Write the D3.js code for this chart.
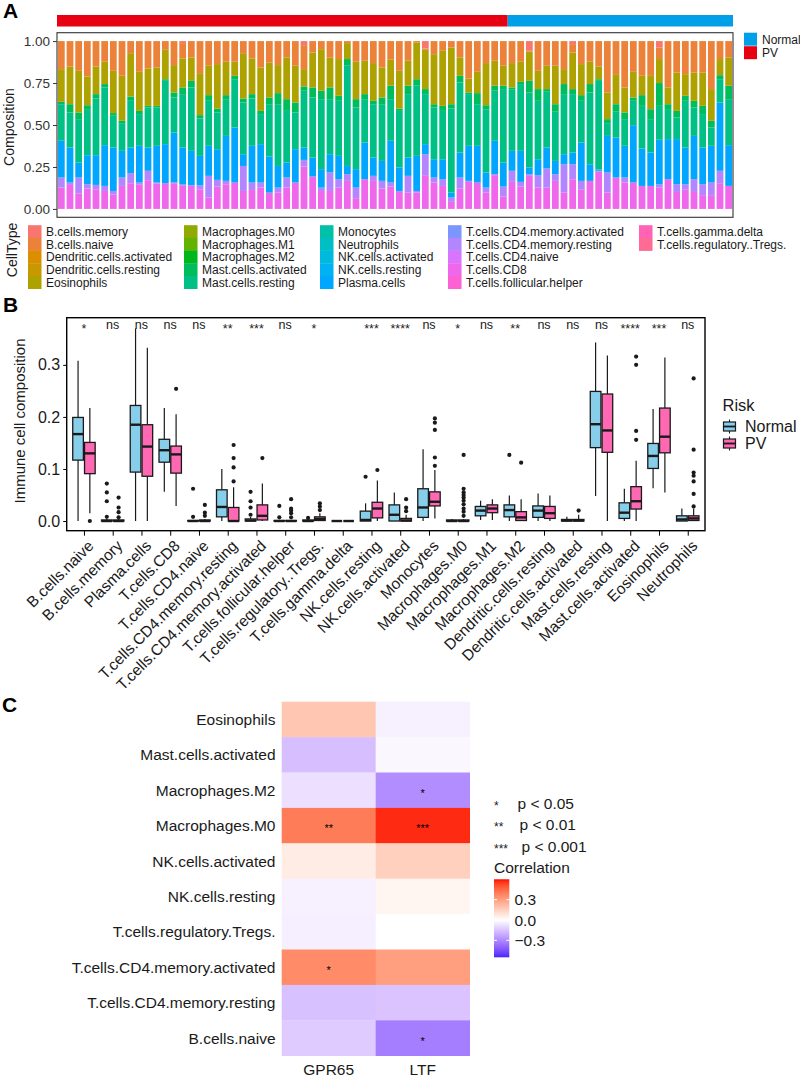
<!DOCTYPE html>
<html>
<head>
<meta charset="utf-8">
<script src="https://cdn.jsdelivr.net/npm/d3@7"></script>
<style>
  body { margin: 0; background: #fff; }
  text { font-family: "Liberation Sans", Arial, sans-serif; }
</style>
</head>
<body>
<svg id="fig" width="800" height="1076"></svg>
<script>
// ---------- panel A: stacked composition per sample ----------
const cellTypes = [
  'B.cells.memory', 'B.cells.naive', 'Dendritic.cells.activated', 'Dendritic.cells.resting', 'Eosinophils',
  'Macrophages.M0', 'Macrophages.M1', 'Macrophages.M2', 'Mast.cells.activated', 'Mast.cells.resting',
  'Monocytes', 'Neutrophils', 'NK.cells.activated', 'NK.cells.resting', 'Plasma.cells',
  'T.cells.CD4.memory.activated', 'T.cells.CD4.memory.resting', 'T.cells.CD4.naive', 'T.cells.CD8', 'T.cells.follicular.helper',
  'T.cells.gamma.delta', 'T.cells.regulatory..Tregs.'
];
const groupNames = ['PV', 'Normal'];
const groupCounts = [52, 26];

// cumulative tops (%) of each band, bottom to top, read per sample
const topCD8 = [12.7,14.3,9.3,12.1,11.7,10.7,8.5,13.7,15.3,14.7,17.1,15.1,15.3,15.3,14.1,13.7,11.7,6.8,13.3,14.7,15.7,10.7,11.3,12.7,9.7,9.7,
  12.7,15.7,25.2,19.3,10.7,10.7,12.7,16.7,6.4,17.7,16.7,12.1,13.3,10.1,9.7,9.7,20.1,15.7,13.7,4.2,12.1,16.1,15.7,9.7,20.1,7.4,
  16.1,13.3,19.7,12.7,12.7,16.7,9.7,17.7,11.7,16.7,22.1,9.7,18.7,15.7,15.7,13.7,13.7,12.7,17.7,10.1,11.7,10.1,8.2,8.2,15.3,13.7];
const topCD4Rest = [18.7,15.7,18.7,14.7,14.3,13.7,10.7,18.7,21.3,15.7,22.7,15.7,15.3,15.7,14.5,14.1,14.1,19.7,17.3,16.7,15.7,25.6,15.7,15.7,9.7,12.7,
  18.7,15.7,29.2,19.3,12.7,21.7,17.7,20.7,12.7,17.7,19.7,16.7,15.7,10.7,19.7,10.7,32.6,18.7,17.7,6.8,18.7,16.7,15.7,12.7,20.7,13.3,
  22.7,16.1,20.7,20.1,24.1,20.7,26.6,26.6,16.7,16.7,22.7,21.7,18.7,18.7,15.7,13.7,13.7,14.7,17.7,14.7,14.7,17.7,14.7,15.7,22.7,13.7];
const topPlasma = [40.6,36.6,27.6,32.0,32.0,38.0,36.6,34.6,36.6,37.6,36.6,37.6,38.6,45.5,36.6,34.6,31.6,37.6,35.6,43.5,48.5,32.6,37.6,38.6,31.2,25.6,
  27.6,35.6,36.6,30.6,23.7,32.6,31.6,25.6,23.7,39.6,30.6,28.6,40.6,24.7,30.6,31.6,38.6,29.6,29.6,9.7,33.6,37.6,37.6,21.7,40.6,27.6,
  34.6,34.6,24.7,29.6,36.6,28.6,32.6,33.6,39.6,26.6,23.5,43.5,42.5,37.6,49.9,36.0,33.6,41.2,41.6,41.6,36.6,43.5,36.6,37.6,63.4,38.0];
const topMastRest = [62.4,57.5,53.5,59.0,65.8,72.4,55.5,51.1,64.4,56.5,60.4,60.4,76.3,66.4,68.4,72.4,53.9,64.4,57.5,65.4,77.3,63.4,65.8,56.5,62.4,62.4,
  58.4,57.5,70.4,66.4,65.4,65.4,64.4,85.3,60.4,65.4,62.4,62.4,65.4,58.4,68.4,73.4,68.4,60.4,58.4,59.8,75.3,68.4,62.4,59.4,70.4,71.4,
  71.0,74.4,69.4,64.4,69.8,57.9,68.4,68.4,64.4,69.4,76.3,51.1,57.9,53.5,64.4,61.4,53.5,61.4,59.0,54.5,64.4,60.4,56.5,48.5,77.3,65.4];
const topMastAct = [63.8,62.4,57.5,61.8,68.4,74.4,57.1,52.5,67.0,58.4,61.4,61.4,77.3,69.4,72.4,76.3,55.9,67.8,59.8,67.8,79.3,65.8,68.4,58.4,66.4,69.0,
  65.4,63.4,73.0,72.4,70.4,72.4,67.4,89.3,65.4,68.4,64.4,66.4,73.4,59.8,73.4,77.3,71.4,62.4,61.4,62.4,79.3,69.4,69.0,61.8,73.4,73.4,
  72.4,75.7,76.3,71.4,71.4,62.4,74.4,71.4,67.8,74.4,77.3,53.5,62.4,57.5,66.4,67.8,59.4,75.0,62.4,58.4,67.4,64.4,61.4,52.5,79.7,73.4];
const topEos = [83.3,84.9,82.3,78.9,84.9,87.7,82.3,79.3,92.8,81.7,83.7,84.3,94.8,85.7,89.7,90.3,80.9,85.3,86.3,87.7,87.7,92.8,89.7,84.3,87.3,85.7,
  90.3,85.3,83.3,93.2,95.2,90.3,89.3,98.8,87.7,88.3,86.9,84.3,88.9,82.3,88.3,99.2,94.8,92.2,94.2,96.2,90.3,77.7,81.7,86.9,88.3,85.3,
  86.9,87.7,93.8,82.3,85.3,85.3,83.3,93.2,86.3,87.7,84.9,69.4,80.3,72.4,81.7,79.3,79.7,89.3,72.4,81.3,80.3,81.3,81.3,71.4,89.3,90.3];
const topBNaive = [100,100,100,100,100,100,100,100,100,100,100,100,100,100,98.8,100,100,100,100,100,100,100,100,100,100,100,
  100,100,97.6,100,100,100,100,100,100,100,100,100,100,100,100,100,95.6,100,100,100,100,100,100,100,100,100,
  100,100,94.2,100,100,100,100,98.2,100,100,100,100,100,100,100,100,100,96.2,100,100,100,100,100,100,100,100];
const stackKeys = ['T.cells.CD8', 'T.cells.CD4.memory.resting', 'Plasma.cells', 'Mast.cells.resting',
  'Mast.cells.activated', 'Eosinophils', 'B.cells.naive', 'B.cells.memory'];
const stackTops = [topCD8, topCD4Rest, topPlasma, topMastRest, topMastAct, topEos, topBNaive];

// ---------- panel B: box statistics ----------
const boxTypes = ['B.cells.naive', 'B.cells.memory', 'Plasma.cells', 'T.cells.CD8', 'T.cells.CD4.naive',
  'T.cells.CD4.memory.resting', 'T.cells.CD4.memory.activated', 'T.cells.follicular.helper', 'T.cells.regulatory..Tregs.',
  'T.cells.gamma.delta', 'NK.cells.resting', 'NK.cells.activated', 'Monocytes', 'Macrophages.M0', 'Macrophages.M1',
  'Macrophages.M2', 'Dendritic.cells.resting', 'Dendritic.cells.activated', 'Mast.cells.resting', 'Mast.cells.activated',
  'Eosinophils', 'Neutrophils'];
const sigLabels = ['*', 'ns', 'ns', 'ns', 'ns', '**', '***', 'ns', '*', '', '***', '****', 'ns', '*', 'ns', '**',
  'ns', 'ns', 'ns', '****', '***', 'ns'];
const normalLow  = [0, 0, 0, 0.056, 0, 0, 0, 0, 0, 0, 0, 0, 0, 0, 0.002, 0, 0, 0, 0.048, 0, 0.063, 0];
const normalQ1   = [0.117, 0, 0.094, 0.113, 0, 0.008, 0, 0, 0, 0, 0, 0, 0.007, 0, 0.010, 0.008, 0.007, 0, 0.141, 0.005, 0.101, 0];
const normalMed  = [0.167, 0, 0.185, 0.136, 0, 0.027, 0.001, 0, 0, 0, 0.002, 0.012, 0.026, 0, 0.020, 0.021, 0.020, 0.001, 0.186, 0.016, 0.125, 0.003];
const normalQ3   = [0.199, 0.002, 0.222, 0.157, 0.001, 0.060, 0.004, 0.001, 0.002, 0, 0.019, 0.031, 0.062, 0.002, 0.028, 0.031, 0.029, 0.003, 0.249, 0.035, 0.149, 0.010];
const normalHigh = [0.308, 0.004, 0.370, 0.217, 0.002, 0.100, 0.008, 0.002, 0.004, 0, 0.034, 0.055, 0.138, 0.004, 0.039, 0.049, 0.053, 0.008, 0.343, 0.062, 0.215, 0.024];
const pvLow  = [0.015, 0, 0, 0.029, 0, 0, 0, 0, 0, 0, 0, 0, 0.005, 0, 0.002, 0, 0, 0, 0, 0, 0.055, 0];
const pvQ1   = [0.091, 0, 0.086, 0.092, 0, 0, 0.002, 0, 0.001, 0, 0.006, 0, 0.029, 0, 0.016, 0.001, 0.005, 0, 0.132, 0.023, 0.131, 0.001];
const pvMed  = [0.130, 0, 0.143, 0.128, 0, 0, 0.010, 0, 0.004, 0, 0.024, 0.001, 0.037, 0, 0.024, 0.007, 0.015, 0.001, 0.174, 0.038, 0.162, 0.005];
const pvQ3   = [0.151, 0.002, 0.185, 0.144, 0.002, 0.026, 0.031, 0.001, 0.008, 0, 0.036, 0.005, 0.056, 0.002, 0.031, 0.018, 0.028, 0.003, 0.244, 0.066, 0.217, 0.010];
const pvHigh = [0.217, 0.004, 0.333, 0.205, 0.004, 0.065, 0.072, 0.002, 0.015, 0, 0.078, 0.012, 0.098, 0.004, 0.042, 0.042, 0.049, 0.012, 0.318, 0.116, 0.314, 0.024];
const normalOut = [[], [0.072, 0.055, 0.038, 0.008], [], [], [0.062, 0.008], [], [0.056, 0.038, 0.026, 0.012],
  [0.029, 0.007], [0.006], [], [0.085], [], [], [], [], [0.127], [], [], [], [], [], []];
const pvOut = [[0], [0.045, 0.026, 0.017, 0.007], [], [0.254], [0.031, 0.016, 0.010], [0.146, 0.121, 0.103, 0.076],
  [0.121], [0.042, 0.024, 0.020, 0.015, 0.007], [0.034, 0.028, 0.021], [], [0.098], [0.042, 0.026, 0.019],
  [0.197, 0.189, 0.175, 0.122, 0.106], [0.127, 0.062, 0.055, 0.050, 0.045, 0.039, 0.032, 0.024, 0.018, 0.010],
  [], [0.112], [], [0.020], [], [0.316, 0.300, 0.173, 0.156], [], [0.274, 0.137, 0.093, 0.087, 0.076, 0.052, 0.028]];

// ---------- panel C: correlation heatmap ----------
const heatRows = ['Eosinophils', 'Mast.cells.activated', 'Macrophages.M2', 'Macrophages.M0', 'NK.cells.activated',
  'NK.cells.resting', 'T.cells.regulatory.Tregs.', 'T.cells.CD4.memory.activated', 'T.cells.CD4.memory.resting', 'B.cells.naive'];
const heatGenes = ['GPR65', 'LTF'];
const corrGPR65 = [0.18, -0.16, -0.08, 0.40, 0.06, -0.035, -0.04, 0.36, -0.155, -0.13];
const corrLTF   = [-0.035, -0.02, -0.29, 0.57, 0.15, 0.03, 0.0, 0.30, -0.15, -0.33];
const starsGPR65 = ['', '', '', '**', '', '', '', '*', '', ''];
const starsLTF   = ['', '', '*', '***', '', '', '', '', '', '*'];
const corrLimits = [-0.55, 0.6];
const corrTicks = [-0.3, 0, 0.3];
const pLegend = [['*', 'p < 0.05'], ['**', 'p < 0.01'], ['***', 'p < 0.001']];

// ggplot hue palette (polar LUV -> sRGB)
function hclLuv(h, c, l) {
  const hr = h * Math.PI / 180;
  const U = c * Math.cos(hr), V = c * Math.sin(hr);
  const Xn = 95.047, Yn = 100, Zn = 108.883;
  const Y = l > 8 ? Yn * Math.pow((l + 16) / 116, 3) : Yn * l / 903.3;
  const t = Xn + 15 * Yn + 3 * Zn;
  const up = U / (13 * l) + 4 * Xn / t, vp = V / (13 * l) + 9 * Yn / t;
  const X = Y * 9 * up / (4 * vp);
  const Z = Y * (12 - 3 * up - 20 * vp) / (4 * vp);
  const x = X / 100, y = Y / 100, z = Z / 100;
  const lin = [3.240479 * x - 1.537150 * y - 0.498535 * z,
    -0.969256 * x + 1.875992 * y + 0.041556 * z,
    0.055648 * x - 0.204043 * y + 1.057311 * z];
  const g = lin.map(v => {
    v = v <= 0.0031308 ? 12.92 * v : 1.055 * Math.pow(v, 1 / 2.4) - 0.055;
    return Math.round(255 * Math.max(0, Math.min(1, v)));
  });
  return d3.rgb(g[0], g[1], g[2]).formatHex();
}
const cellColor = d3.scaleOrdinal()
  .domain(cellTypes)
  .range(cellTypes.map((d, i) => hclLuv(15 + 360 * i / cellTypes.length, 100, 65)));

const svg = d3.select('#fig');
const ink = '#1a1a1a';

function panelLetter(txt, x, y) {
  svg.append('text').attr('x', x).attr('y', y).text(txt)
    .attr('font-size', 21).attr('font-weight', 'bold').attr('fill', '#000');
}

// ================= Panel A =================
panelLetter('A', 3, 18);
const nSamples = d3.sum(groupCounts);
const sampleIdx = d3.range(nSamples);
const xA = d3.scaleBand().domain(sampleIdx).range([57, 733]);
const yA = d3.scaleLinear().domain([-0.05, 1.05]).range([217.3, 32.7]);
const bw = xA.bandwidth();

const rowsA = sampleIdx.map(i => {
  const r = {};
  stackKeys.forEach((k, j) => {
    const top = j < stackTops.length ? stackTops[j][i] : 100;
    const bot = j > 0 ? stackTops[j - 1][i] : 0;
    r[k] = Math.max(0, top - bot) / 100;
  });
  return r;
});
const layers = d3.stack().keys(stackKeys)(rowsA);

svg.append('g').selectAll('g').data(layers).join('g')
  .attr('fill', d => cellColor(d.key))
  .selectAll('rect').data(d => d).join('rect')
  .attr('x', (d, i) => xA(i) + bw * 0.11)
  .attr('width', bw * 0.78)
  .attr('y', d => yA(d[1]))
  .attr('height', d => Math.max(0, yA(d[0]) - yA(d[1])));

// group annotation strip
const groupColor = { PV: '#E60012', Normal: '#00A0E9' };
let start = 0;
groupNames.forEach((g, i) => {
  svg.append('rect')
    .attr('x', xA(start)).attr('y', 15)
    .attr('width', bw * groupCounts[i]).attr('height', 11.5)
    .attr('fill', groupColor[g]);
  start += groupCounts[i];
});

svg.append('rect').attr('x', 57).attr('y', 32.7).attr('width', 676).attr('height', 184.6)
  .attr('fill', 'none').attr('stroke', '#333').attr('stroke-width', 1.1);

const axA = svg.append('g').attr('transform', 'translate(57,0)')
  .call(d3.axisLeft(yA).tickValues([0, 0.25, 0.5, 0.75, 1]).tickFormat(d3.format('.2f')).tickSize(4).tickPadding(3));
axA.select('.domain').remove();
axA.selectAll('line').attr('stroke', '#333');
axA.selectAll('text').attr('font-size', 13.5).attr('fill', '#333').attr('font-family', null);

svg.append('text').attr('transform', 'translate(14,127) rotate(-90)')
  .attr('text-anchor', 'middle').attr('font-size', 14).attr('fill', ink).text('Composition');

// group legend (top right)
['Normal', 'PV'].forEach((g, i) => {
  svg.append('rect').attr('x', 744).attr('y', 32.7 + i * 13.5).attr('width', 13).attr('height', 13)
    .attr('fill', groupColor[g]);
  svg.append('text').attr('x', 762).attr('y', 43.5 + i * 13.5).attr('font-size', 12).attr('fill', ink).text(g);
});

// cell type legend
svg.append('text').attr('transform', 'translate(17,250) rotate(-90)')
  .attr('text-anchor', 'middle').attr('font-size', 14).attr('fill', ink).text('CellType');
const legColX = [28, 184, 320, 448, 639];
const legRowH = 12.7;
const legY0 = 225.2;
const legA = svg.append('g').selectAll('g').data(cellTypes).join('g')
  .attr('transform', (d, i) => `translate(${legColX[Math.floor(i / 5)]},${legY0 + (i % 5) * legRowH})`);
legA.append('rect').attr('width', 13.5).attr('height', legRowH + 0.3).attr('fill', d => cellColor(d));
legA.append('text').attr('x', 18).attr('y', legRowH / 2 + 4.3).attr('font-size', 12).attr('fill', ink).text(d => d);

// ================= Panel B =================
panelLetter('B', 3, 312);
const xB = d3.scalePoint().domain(boxTypes).range([66.7, 705]).padding(0.6);
const yB = d3.scaleLinear().domain([-0.0186, 0.3906]).range([530.7, 317.7]);
const stepB = xB.step();
const boxW = 0.37 * stepB;
const riskFill = { Normal: '#87CEEB', PV: '#FF69B4' };

const groupsB = [
  { name: 'Normal', off: -0.205, low: normalLow, q1: normalQ1, med: normalMed, q3: normalQ3, high: normalHigh, out: normalOut },
  { name: 'PV', off: 0.205, low: pvLow, q1: pvQ1, med: pvMed, q3: pvQ3, high: pvHigh, out: pvOut }
];
const gB = svg.append('g');
groupsB.forEach(gr => {
  boxTypes.forEach((t, i) => {
    const cx = xB(t) + gr.off * stepB;
    const lo = gr.low[i], q1 = gr.q1[i], md = gr.med[i], q3 = gr.q3[i], hi = gr.high[i];
    const g = gB.append('g');
    g.append('line').attr('x1', cx).attr('x2', cx).attr('y1', yB(hi)).attr('y2', yB(q3))
      .attr('stroke', ink).attr('stroke-width', 1.2);
    g.append('line').attr('x1', cx).attr('x2', cx).attr('y1', yB(q1)).attr('y2', yB(lo))
      .attr('stroke', ink).attr('stroke-width', 1.2);
    g.append('rect').attr('x', cx - boxW / 2).attr('width', boxW)
      .attr('y', yB(q3)).attr('height', yB(q1) - yB(q3))
      .attr('fill', riskFill[gr.name]).attr('stroke', ink).attr('stroke-width', 1.3);
    g.append('line').attr('x1', cx - boxW / 2).attr('x2', cx + boxW / 2)
      .attr('y1', yB(md)).attr('y2', yB(md)).attr('stroke', ink).attr('stroke-width', 2.4);
    g.selectAll('circle').data(gr.out[i]).join('circle')
      .attr('cx', cx).attr('cy', d => yB(d)).attr('r', 2.1).attr('fill', ink);
  });
});

svg.append('g').selectAll('text').data(boxTypes).join('text')
  .attr('x', d => xB(d))
  .attr('y', (d, i) => sigLabels[i] === 'ns' ? 329 : 332.5)
  .attr('text-anchor', 'middle').attr('font-size', 12.5).attr('fill', ink)
  .text((d, i) => sigLabels[i]);

svg.append('rect').attr('x', 66.7).attr('y', 317.7).attr('width', 638.3).attr('height', 213)
  .attr('fill', 'none').attr('stroke', '#000').attr('stroke-width', 1.4);

const ayB = svg.append('g').attr('transform', 'translate(66.7,0)')
  .call(d3.axisLeft(yB).tickValues([0, 0.1, 0.2, 0.3]).tickFormat(d3.format('.1f')).tickSize(3.5).tickPadding(3));
ayB.select('.domain').remove();
ayB.selectAll('line').attr('stroke', '#000');
ayB.selectAll('text').attr('font-size', 16).attr('fill', ink).attr('font-family', null);

const axB = svg.append('g').attr('transform', 'translate(0,530.7)')
  .call(d3.axisBottom(xB).tickSize(5).tickSizeOuter(0));
axB.select('.domain').remove();
axB.selectAll('line').attr('stroke', '#000');
axB.selectAll('text')
  .attr('font-size', 15.5).attr('fill', ink).attr('font-family', null)
  .attr('text-anchor', 'end')
  .attr('transform', 'translate(2.5,8.5) rotate(-45)')
  .attr('dy', '0.7em').attr('y', 0).attr('x', 0);

svg.append('text').attr('transform', 'translate(25,421) rotate(-90)')
  .attr('text-anchor', 'middle').attr('font-size', 15).attr('fill', ink).text('Immune cell composition');

// risk legend
svg.append('text').attr('x', 722.5).attr('y', 411).attr('font-size', 16.5).attr('fill', ink).text('Risk');
['Normal', 'PV'].forEach((g, i) => {
  const y0 = 426.5 + i * 17;
  const lg = svg.append('g');
  lg.append('line').attr('x1', 729.5).attr('x2', 729.5).attr('y1', y0 - 7).attr('y2', y0 + 7)
    .attr('stroke', ink).attr('stroke-width', 1.1);
  lg.append('rect').attr('x', 723.5).attr('y', y0 - 4.5).attr('width', 12).attr('height', 9)
    .attr('fill', riskFill[g]).attr('stroke', ink).attr('stroke-width', 1.2);
  lg.append('line').attr('x1', 723.5).attr('x2', 735.5).attr('y1', y0).attr('y2', y0)
    .attr('stroke', ink).attr('stroke-width', 1.8);
  svg.append('text').attr('x', 745).attr('y', y0 + 5.5).attr('font-size', 16).attr('fill', ink).text(g);
});

// ================= Panel C =================
panelLetter('C', 2, 711.5);
const xC = d3.scaleBand().domain(heatGenes).range([281.7, 469.7]);
const yC = d3.scaleBand().domain(heatRows).range([701.7, 1055.7]);
const corrMax = d3.max(corrLimits, Math.abs);
function corrColor(v) {
  const t = v / corrMax;
  return t >= 0 ? d3.interpolateLab('#ffffff', '#ff0000')(t) : d3.interpolateLab('#ffffff', '#0000ff')(-t);
}
const cells = [];
heatRows.forEach((r, i) => {
  cells.push({ row: r, gene: 'GPR65', v: corrGPR65[i], s: starsGPR65[i] });
  cells.push({ row: r, gene: 'LTF', v: corrLTF[i], s: starsLTF[i] });
});
svg.append('g').selectAll('rect').data(cells).join('rect')
  .attr('x', d => xC(d.gene)).attr('y', d => yC(d.row))
  .attr('width', xC.bandwidth() + 0.3).attr('height', yC.bandwidth() + 0.3)
  .attr('fill', d => corrColor(d.v));
svg.append('g').selectAll('text').data(cells.filter(d => d.s)).join('text')
  .attr('x', d => xC(d.gene) + xC.bandwidth() / 2)
  .attr('y', d => yC(d.row) + yC.bandwidth() / 2 + 6.5)
  .attr('text-anchor', 'middle').attr('font-size', 11).attr('fill', '#000')
  .text(d => d.s);

svg.append('g').selectAll('text').data(heatRows).join('text')
  .attr('x', 275.5).attr('y', d => yC(d) + yC.bandwidth() / 2 + 5.5)
  .attr('text-anchor', 'end').attr('font-size', 15.5).attr('fill', ink).text(d => d);
svg.append('g').selectAll('text').data(heatGenes).join('text')
  .attr('x', d => xC(d) + xC.bandwidth() / 2).attr('y', 1074.5)
  .attr('text-anchor', 'middle').attr('font-size', 15.5).attr('fill', ink).text(d => d);

// p legend
pLegend.forEach((p, i) => {
  const y0 = 808.5 + i * 21.7;
  svg.append('text').attr('x', 494).attr('y', y0 + 1).attr('font-size', 12).attr('fill', ink).text(p[0]);
  svg.append('text').attr('x', 517.5 + i * 2).attr('y', y0).attr('font-size', 15.5).attr('fill', ink).text(p[1]);
});
svg.append('text').attr('x', 494).attr('y', 873).attr('font-size', 15.5).attr('fill', ink).text('Correlation');

// colour bar
const cbY = d3.scaleLinear().domain(corrLimits).range([957.3, 879.3]);
const defs = svg.append('defs');
const grad = defs.append('linearGradient').attr('id', 'corrGrad')
  .attr('x1', 0).attr('y1', 1).attr('x2', 0).attr('y2', 0);
d3.range(0, 1.0001, 0.02).forEach(f => {
  const v = corrLimits[0] + f * (corrLimits[1] - corrLimits[0]);
  grad.append('stop').attr('offset', f).attr('stop-color', corrColor(v));
});
svg.append('rect').attr('x', 494).attr('y', 879.3).attr('width', 15.3).attr('height', 78)
  .attr('fill', 'url(#corrGrad)');
corrTicks.forEach(t => {
  const y = cbY(t);
  svg.append('line').attr('x1', 494).attr('x2', 497).attr('y1', y).attr('y2', y).attr('stroke', '#fff').attr('stroke-width', 1);
  svg.append('line').attr('x1', 506.3).attr('x2', 509.3).attr('y1', y).attr('y2', y).attr('stroke', '#fff').attr('stroke-width', 1);
  svg.append('text').attr('x', 514.5).attr('y', y + 5.6).attr('font-size', 15.5).attr('fill', ink)
    .text(t === 0 ? '0.0' : d3.format('.1f')(t).replace('-', '\u2212'));
});
</script>
</body>
</html>
